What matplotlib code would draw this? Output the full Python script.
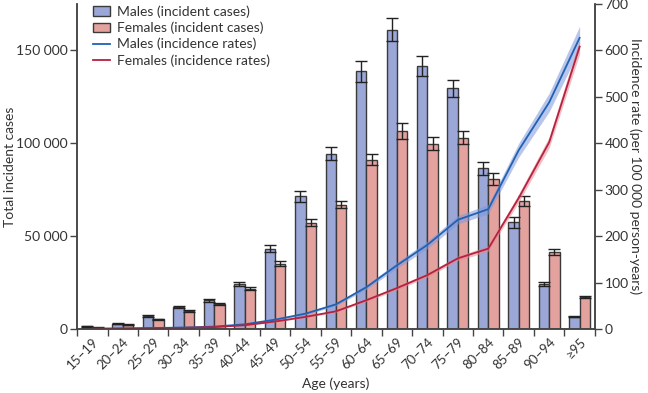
import matplotlib
matplotlib.use("Agg")
import matplotlib.pyplot as plt
import numpy as np
from matplotlib.patches import Patch
from matplotlib.lines import Line2D

plt.rcParams['font.family'] = ['Lato', 'DejaVu Sans']

age_groups = ["15–19", "20–24", "25–29", "30–34", "35–39", "40–44", "45–49",
              "50–54", "55–59", "60–64", "65–69", "70–74", "75–79", "80–84",
              "85–89", "90–94", "≥95"]

male_cases = [1400, 2900, 7000, 11900, 15500, 24300, 43200, 71400, 94400,
              138800, 161100, 141400, 129500, 86500, 57500, 24300, 6600]
male_cases_err = [300, 400, 500, 600, 800, 1100, 2000, 3000, 3400,
                  5600, 6300, 5400, 4600, 3600, 2900, 1100, 400]
female_cases = [700, 2300, 5200, 9700, 13500, 21700, 35200, 57200, 67000,
                91200, 106600, 99800, 103000, 80600, 69000, 41500, 17100]
female_cases_err = [200, 300, 400, 500, 600, 800, 1300, 1800, 2000,
                    2800, 4200, 3600, 3600, 3200, 2700, 1600, 700]

male_rate = [0.5, 1, 2, 3, 5, 10, 20, 33, 53, 90, 137, 181, 235, 258,
             385, 488, 627]
male_rate_ci = [0.3, 0.4, 0.5, 0.6, 0.8, 1, 1.5, 2.5, 3, 4.5, 6.5, 8, 9, 10,
                15, 20, 25]
female_rate = [0.3, 0.8, 1.5, 2.5, 4, 8, 16, 26, 38, 62, 88, 116, 152, 173,
               282, 402, 608]
female_rate_ci = [0.2, 0.3, 0.4, 0.5, 0.6, 0.8, 1, 1.5, 2, 3, 4, 4.5, 5, 6,
                  9, 12, 16]

male_bar_color = "#9ba7d6"
female_bar_color = "#e4a29e"
male_line_color = "#2061b4"
female_line_color = "#b6213f"
male_band_color = "#7e98dc"
female_band_color = "#e58a93"
edge = "#3a3a3a"
text_color = "#333333"
fs = 10
tfs = 9.5

fig = plt.figure(figsize=(6.48, 3.93), dpi=100)
ax = fig.add_axes([0.119, 0.163, 0.799, 0.827])
ax2 = ax.twinx()

x = np.arange(len(age_groups))
w = 0.34
ax.bar(x - w / 2, male_cases, w, color=male_bar_color, edgecolor=edge,
       linewidth=1.0, zorder=2)
ax.bar(x + w / 2, female_cases, w, color=female_bar_color, edgecolor=edge,
       linewidth=1.0, zorder=2)
ax.errorbar(x - w / 2, male_cases, yerr=male_cases_err, fmt='none',
            ecolor="#222222", elinewidth=1.0, capsize=4, capthick=1.0, zorder=3)
ax.errorbar(x + w / 2, female_cases, yerr=female_cases_err, fmt='none',
            ecolor="#222222", elinewidth=1.0, capsize=4, capthick=1.0, zorder=3)

mr = np.array(male_rate); mc = np.array(male_rate_ci)
fr = np.array(female_rate); fc = np.array(female_rate_ci)
ax2.fill_between(x, mr - mc, mr + mc, color=male_band_color, alpha=0.55,
                 linewidth=0)
ax2.fill_between(x, fr - fc, fr + fc, color=female_band_color, alpha=0.55,
                 linewidth=0)
ax2.plot(x, mr, color=male_line_color, lw=1.3)
ax2.plot(x, fr, color=female_line_color, lw=1.3)

ax.set_xlim(-0.5, len(age_groups) - 0.5)
ax.set_ylim(0, 175000)
ax2.set_ylim(0, 700)

ax.set_xticks(np.arange(-0.5, len(age_groups), 1.0))
ax.set_xticklabels([])
ax.set_xticks(x, minor=True)
ax.set_xticklabels(age_groups, minor=True, rotation=45, ha='right',
                   rotation_mode='anchor', fontsize=tfs, color=text_color)
ax.tick_params(axis='x', which='minor', length=0, pad=5)
ax.tick_params(axis='x', which='major', length=5, width=1.0, color="#444444")

yt = [0, 50000, 100000, 150000]
ax.set_yticks(yt)
ax.set_yticklabels(["0", "50 000", "100 000", "150 000"],
                   fontsize=fs, color=text_color)
ax.tick_params(axis='y', length=5, width=1.0, color="#444444", pad=2)
ax2.set_yticks([0, 100, 200, 300, 400, 500, 600, 700])
ax2.tick_params(axis='y', length=5, width=1.0, color="#444444", pad=2,
                labelsize=fs, labelcolor=text_color)

for a in (ax, ax2):
    a.spines['top'].set_visible(False)
    for s in ('left', 'right', 'bottom'):
        a.spines[s].set_color("#444444")
        a.spines[s].set_linewidth(1.1)

ax.set_ylabel("Total incident cases", fontsize=fs, color=text_color)
ax.yaxis.set_label_coords(-0.118, 0.5)
ax2.set_ylabel("Incidence rate (per 100 000 person-years)", fontsize=fs,
               color=text_color, rotation=270, va='bottom')
ax2.yaxis.set_label_coords(1.066, 0.5)
ax.set_xlabel("Age (years)", fontsize=fs, color=text_color)
ax.xaxis.set_label_coords(0.5, -0.148)

handles = [
    Patch(facecolor=male_bar_color, edgecolor=edge, linewidth=1.0),
    Patch(facecolor=female_bar_color, edgecolor=edge, linewidth=1.0),
    Line2D([], [], color=male_line_color, lw=1.3),
    Line2D([], [], color=female_line_color, lw=1.3),
]
labels = ["Males (incident cases)", "Females (incident cases)",
          "Males (incidence rates)", "Females (incidence rates)"]
ax2.legend(handles, labels, loc='upper left', bbox_to_anchor=(0.02, 1.012),
           frameon=False, fontsize=fs, handlelength=1.2, handleheight=0.7,
           handletextpad=0.5, labelspacing=0.26, borderaxespad=0,
           labelcolor=text_color)

fig.savefig("out.png", dpi=100)
